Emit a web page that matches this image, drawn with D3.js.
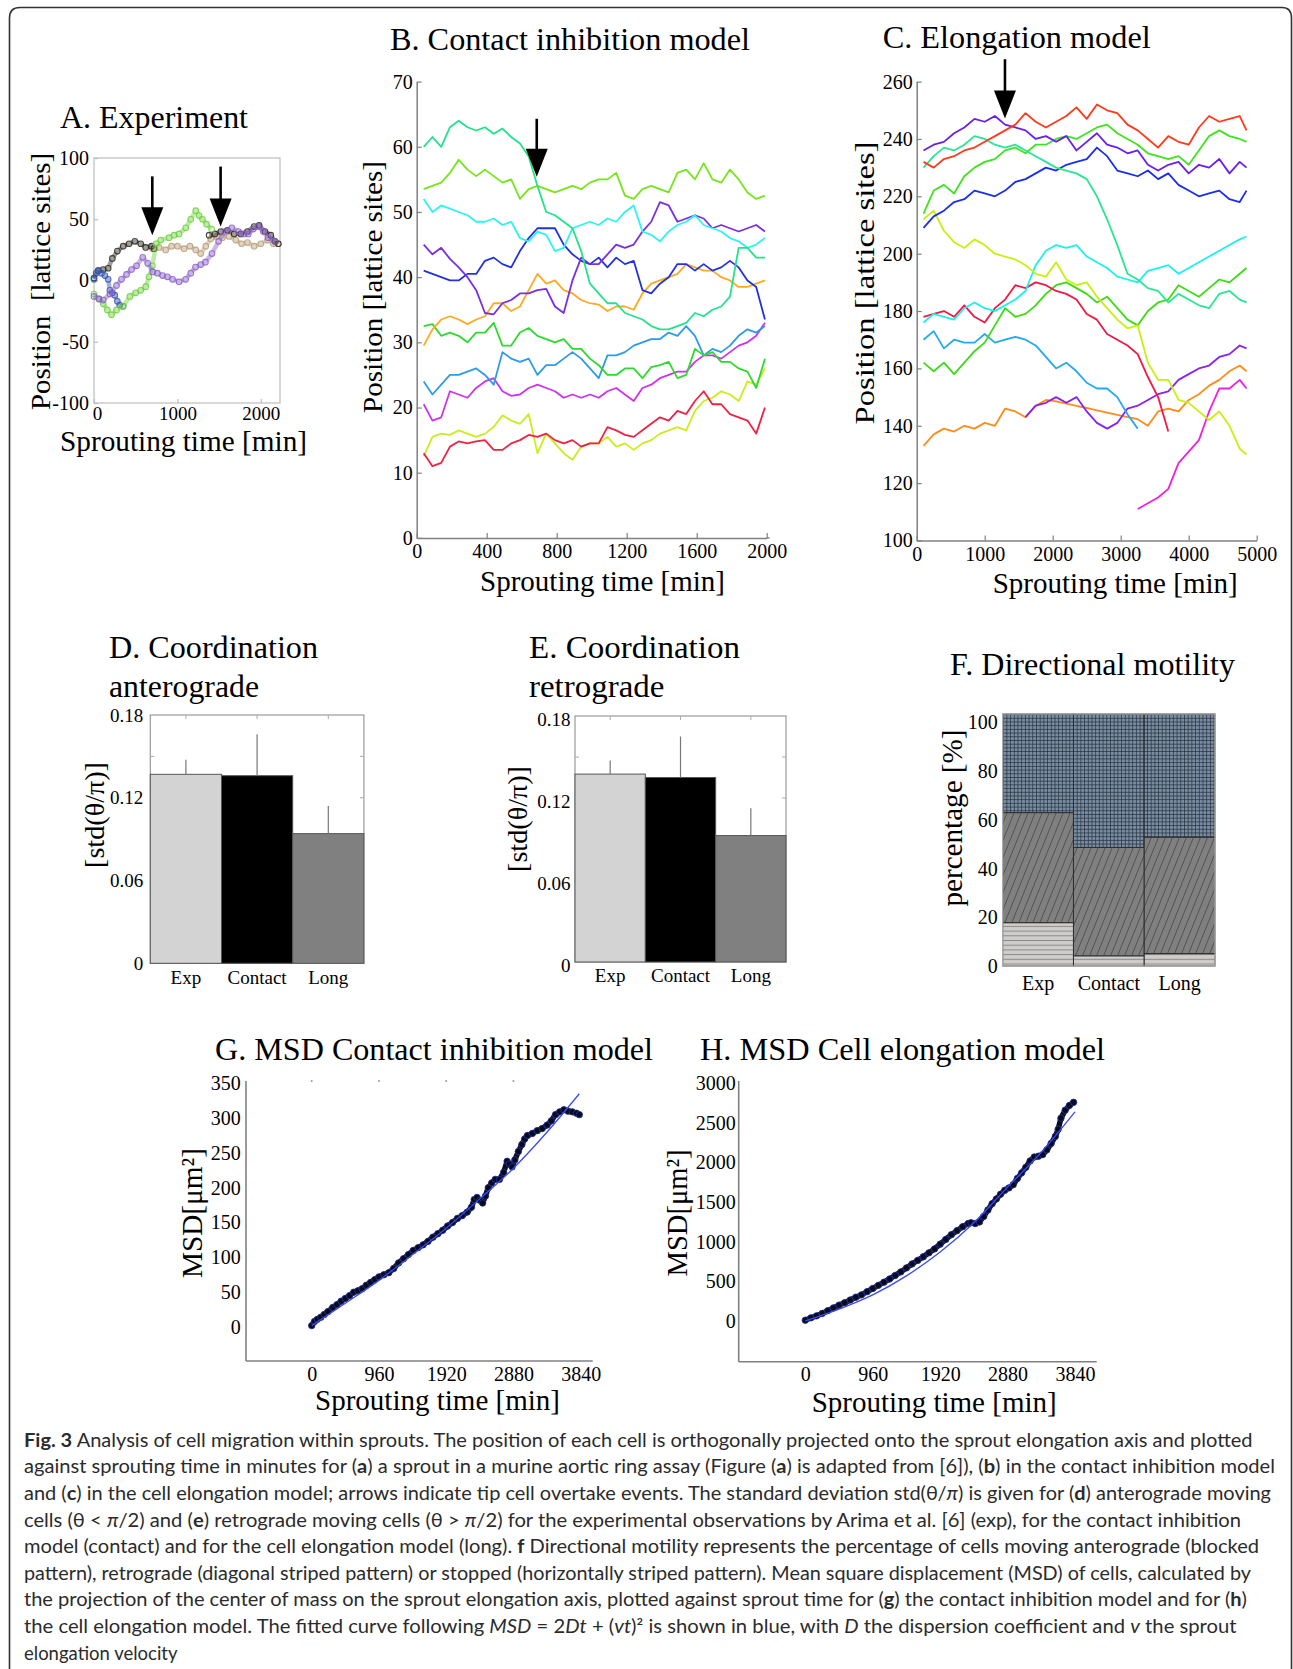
<!DOCTYPE html>
<html><head><meta charset="utf-8">
<script src="https://cdn.jsdelivr.net/npm/d3@7"></script>
<style>body{margin:0;background:#fff}svg{display:block}</style>
</head><body>
<svg id="fig" width="1293" height="1669"></svg>
<script>
// ---------------- DATA ----------------
// Panel A: experiment traces [time(min), position]
const aBlack1 = [[0,2],[50,8],[110,9],[170,10],[220,18],[280,24],[350,28],[420,30],[490,32],[560,30],[620,27],[690,28],[720,26]];
const aBlack2 = [[1380,37],[1450,38],[1520,40],[1600,41],[1680,38],[1760,38],[1840,40],[1920,44],[1980,45],[2050,40],[2120,37],[2170,32],[2210,30]];
const aTan = [[700,26],[780,27],[860,25],[930,28],[1000,28],[1080,26],[1150,28],[1220,25],[1280,22],[1340,28],[1400,34],[1470,36],[1540,35],[1620,36],[1700,33],[1770,30],[1840,31],[1920,28],[2000,30],[2080,33],[2150,30],[2210,30]];
const aGreen = [[0,-11],[60,-15],[110,-19],[160,-24],[210,-28],[270,-24],[350,-21],[430,-13],[500,-10],[560,-8],[620,-5],[660,3],[700,12],[745,30],[800,33],[900,35],[960,37],[1020,38],[1100,43],[1160,50],[1220,57],[1260,53],[1300,50],[1350,46],[1410,42]];
const aPurple = [[0,-13],[60,-15],[110,-16],[190,-11],[270,-4],[330,1],[390,5],[450,9],[510,12],[585,19],[644,14],[704,7],[760,6],[822,4],[880,3],[941,1],[1020,-1],[1099,1],[1160,6],[1217,11],[1280,13],[1336,15],[1415,22],[1494,32],[1573,40],[1652,43],[1731,40],[1800,38],[1850,38],[1910,42],[1968,44],[2030,40],[2087,35],[2166,32]];
const aBlue = [[0,1],[25,6],[51,8],[90,6],[130,4],[170,1],[190,-8],[220,-10],[249,-12],[280,-17],[308,-20],[348,-21]];
const aArrows = [[699,85,37],[1518,93,44]];
const aXTicks = [0,1000,2000];
const aYTicks = [-100,-50,0,50,100];

// Panel B: contact inhibition model
const bTimes = [40,90,140,190,240,290,340,390,440,490,540,590,640,690,740,790,840,890,940,990,1040,1090,1140,1190,1240,1290,1340,1390,1440,1490,1540,1590,1640,1690,1740,1790,1840,1890,1940,1990];
const bTeal = [60,61.5,60,63,64,63,62.5,63,62,62.8,61.5,60.5,58.5,54,50,49.5,48.5,47.5,44,39,37.5,36,36,34.5,34,33.5,32.5,32,32,32.5,33,34.5,34,35,35.5,37,44.5,44.5,43,43];
const bLime = [53.5,54,54.5,56,58,56.5,55.5,56.5,55.5,54.5,55,52,53.5,54,53.5,53,53.5,54,53.5,54.5,55,55,56,52.5,52,53.5,54,53.5,53,56,56.5,55,57.5,55,54.5,56.5,55,53,52,52.5];
const bCyan = [52,50,51,50.5,50,49.5,48.5,48.5,49,48,48.5,46,45.5,47,46.5,44,44.5,47.5,48,48.5,48,49,48.5,50,51,47,46.5,45.5,47,48,48.5,49.5,48,47.5,47,46,45.5,44.5,45,46];
const bPurple = [45,43.5,44.5,42.8,41.5,40,38,34.5,34.3,36,36.5,37.5,37.5,38,38.2,35.5,34.5,39.5,43,42,42,43.5,45,44.5,45,47,48.5,51.5,51,48.5,49,49.5,49,47.5,48,47.5,47,47.5,48,47];
const bBlue = [41,40.5,40,39.5,39.5,40.5,40.5,42.5,43,42,41.5,44,46,47.5,47.5,47.5,45,43.5,42.5,42,43,41.5,43,42,42.5,38,37.5,39,40,42,42,41,42,41,41.5,42.5,41.5,39.5,38.5,33.5];
const bOrange = [29.5,32,33.5,34,33.5,32.8,33.5,34,36,36,34.8,35.5,38,40.5,39,39.5,38,37.5,36.5,36,35.8,34.8,35.5,35.5,35,37.5,39,39.5,40,40.5,42,41.5,41,41,40,39.5,38.5,38.5,39,39.5];
const bGreen = [32.5,32.8,31,31.5,31,30,31.5,31.5,33,29.5,29.5,31.5,32.2,31,30.5,30,30.5,29,29,27.5,26.5,25,25,26,26,24.5,26.2,26.5,27,24.5,25,29,28,28.5,27,27,26,25.5,23,27.5];
const bSky = [24,22,23.5,25,25,25.5,26,25,23.5,28.5,27.5,27,27.5,25,26.5,26.5,27.5,28.5,27.5,26,24.5,28,28,28.5,29.5,30,30.5,30.5,31.5,31,32.5,31,28,29,28.5,29.5,31,32,31.5,32.5];
const bMagenta = [20.5,18,18.5,22.5,22,21.5,23,24,24.5,22.5,21.8,22,23,23.5,23,22.5,21.5,22,21.5,22,21.5,22.5,23,22,21,23,23.5,24.5,25,25.5,25.5,27,28,28,27.5,28.5,29.5,30,31,33];
const bRed = [13,11,11.5,14,14.8,14.5,14.8,15,13.5,13.5,14.5,15,15.8,15.5,16,15,14.5,15,14,14.5,14.5,17,16.5,15.8,15.5,16.5,17.5,18.5,18,19.5,19,21,22.5,20.5,20.5,19,18.5,18,16,20];
const bYellow = [12.5,15.5,16,15.8,16.5,16,15.5,16,17,18.8,18,17.5,19,13,16,14.5,13,12,14,14.5,14.5,15.5,14,14.5,13.5,14.5,15,16,16.5,17,16.5,19.5,21,21.5,22.5,22,21,24,23.5,26];
const bArrow = [686,64.3,55.4];
const bXTicks = [0,400,800,1200,1600,2000];
const bYTicks = [0,10,20,30,40,50,60,70];

// Panel C: elongation model (null = cell not present)
const cTimes = [100,250,400,550,700,850,1000,1150,1300,1450,1600,1750,1900,2050,2200,2350,2500,2650,2800,2950,3100,3250,3400,3550,3700,3850,4000,4150,4300,4450,4600,4750,4850];
const cRedOrange = [232,230,233,234,236,237,239,241,243,245,249,246,244,246,248,251,247,252,250,249,245,243,240,237,241,239,238,244,248,246,247,248,243];
const cViolet = [236,238,239,242,244,247,246,248,245,244,243,240,241,239,241,236,239,242,238,237,235,236,231,229,231,232,228,231,230,233,228,232,230];
const cTeal = [230,234,237,236,238,241,240,238,237,238,236,234,232,230,229,228,226,220,212,203,193,191,188,187,183,186,184,182,181,186,187,184,183];
const cGreen = [214,222,224,221,227,230,232,233,236,237,235,238,238,240,241,240,242,244,245,242,240,238,235,234,233,234,231,236,241,243,241,240,239];
const cBlue = [209,213,215,218,219,222,221,220,222,225,226,228,230,229,231,232,233,237,234,229,228,227,229,226,228,224,222,220,221,222,219,218,222];
const cYellow = [212,215,208,204,202,205,203,200,199,198,196,193,192,197,191,189,190,185,181,177,174,175,162,156,156,149,148,145,142,145,140,132,130];
const cCyan = [176,179,178,177,181,183,181,180,182,184,187,196,201,203,202,203,199,197,195,192,191,190,194,195,196,193,195,197,199,201,203,205,206];
const cRed = [178,179,180,178,182,178,176,181,184,189,188,190,189,187,186,184,179,177,172,170,168,165,157,150,138,null,null,null,null,null,null,null,null];
const cGreen2 = [162,159,162,158,162,166,169,175,181,178,179,182,186,189,190,188,186,183,185,181,177,175,180,183,184,189,187,185,188,191,190,193,195];
const cSky = [170,173,167,170,169,169,172,169,170,171,170,168,164,160,162,159,155,153,153,150,144,139,null,null,null,null,null,null,null,null,null,null,null];
const cPurple = [null,null,null,null,null,null,null,null,null,null,143,147,148,150,148,150,145,141,139,141,146,147,149,151,152,156,158,160,161,164,165,168,167];
const cOrange = [133,137,139,138,140,139,141,140,146,145,143,147,149,148.5,147.7,146.9,146.2,145.4,144.6,143.8,143,142.3,140,145,146,145,149,151,154,156,159,161,159];
const cMagenta = [null,null,null,null,null,null,null,null,null,null,null,null,null,null,null,null,null,null,null,null,null,111,113,115,118,127,131,135,145,153,153,156,153];
const cArrow = [1298,267.8,247.1];
const cXTicks = [0,1000,2000,3000,4000,5000];
const cYTicks = [100,120,140,160,180,200,220,240,260];

// Panels D, E: coordination (mean, upper error)
const dCats = ["Exp","Contact","Long"];
const dMean = [0.137,0.136,0.094];
const dErr = [0.0105,0.030,0.020];
const eMean = [0.1375,0.135,0.0925];
const eErr = [0.010,0.030,0.020];
const deYTicks = [0,0.06,0.12,0.18];

// Panel F: directional motility (%)
const fCats = ["Exp","Contact","Long"];
const fStopped = [17.8,4.2,5.1];
const fRetro = [45.2,44.5,47.8];
const fAntero = [40.5,54.8,50.6];
const fYTicks = [0,20,40,60,80,100];

// Panel G: MSD contact inhibition [time, MSD]
const gData = [[0,2],[40,8],[80,11],[130,14],[180,18],[230,22],[300,28],[360,32],[420,37],[480,41],[540,45],[600,50],[660,52],[720,55],[780,60],[840,64],[900,68],[960,72],[1030,75],[1100,78],[1170,84],[1240,92],[1310,98],[1380,104],[1450,110],[1520,114],[1590,118],[1660,123],[1730,129],[1800,134],[1870,139],[1940,145],[2010,150],[2080,156],[2150,160],[2220,165],[2280,172],[2320,183],[2360,186],[2400,182],[2440,178],[2480,188],[2520,200],[2570,207],[2620,212],[2680,212],[2740,222],[2790,238],[2820,234],[2860,230],[2900,240],[2950,252],[3000,262],[3040,270],[3080,275],[3150,278],[3220,282],[3290,285],[3360,290],[3420,296],[3480,305],[3540,309],[3600,312],[3660,310],[3720,309],[3780,307],[3820,305]];
const gFit = [[0,2],[480,34],[960,67],[1440,104],[1920,142],[2400,184],[2880,228],[3360,280],[3820,335]];
const ghXTicks = [0,960,1920,2880,3840];
const gYTicks = [0,50,100,150,200,250,300,350];

// Panel H: MSD cell elongation [time, MSD]
const hData = [[0,10],[80,40],[160,65],[240,95],[320,130],[400,165],[480,200],[560,230],[640,265],[720,300],[800,330],[880,370],[960,410],[1040,450],[1120,490],[1200,530],[1280,575],[1360,620],[1440,670],[1520,720],[1600,765],[1680,810],[1760,860],[1840,910],[1920,970],[2000,1030],[2080,1090],[2160,1140],[2240,1190],[2320,1230],[2360,1240],[2420,1230],[2480,1250],[2540,1320],[2600,1400],[2660,1480],[2720,1540],[2780,1600],[2840,1650],[2900,1680],[2960,1720],[3020,1800],[3080,1870],[3140,1940],[3200,2020],[3260,2070],[3320,2080],[3380,2100],[3440,2160],[3500,2240],[3560,2330],[3600,2420],[3640,2560],[3700,2660],[3760,2720],[3820,2760]];
const hFit = [[0,0],[480,150],[960,330],[1440,570],[1920,870],[2400,1240],[2880,1690],[3360,2130],[3840,2640]];
const hYTicks = [0,500,1000,1500,2000,2500,3000];

// Caption
const captionLines = [
 [["Fig. 3","b"],[" Analysis of cell migration within sprouts. The position of each cell is orthogonally projected onto the sprout elongation axis and plotted",""]],
 [["against sprouting time in minutes for (",""],["a","b"],[") a sprout in a murine aortic ring assay (Figure (",""],["a","b"],[") is adapted from [6]), (",""],["b","b"],[") in the contact inhibition model",""]],
 [["and (",""],["c","b"],[") in the cell elongation model; arrows indicate tip cell overtake events. The standard deviation std(θ/",""],["π","i"],[") is given for (",""],["d","b"],[") anterograde moving",""]],
 [["cells (θ < ",""],["π","i"],["/2) and (",""],["e","b"],[") retrograde moving cells (θ > ",""],["π","i"],["/2) for the experimental observations by Arima et al. [6] (exp), for the contact inhibition",""]],
 [["model (contact) and for the cell elongation model (long). ",""],["f","b"],[" Directional motility represents the percentage of cells moving anterograde (blocked",""]],
 [["pattern), retrograde (diagonal striped pattern) or stopped (horizontally striped pattern). Mean square displacement (MSD) of cells, calculated by",""]],
 [["the projection of the center of mass on the sprout elongation axis, plotted against sprout time for (",""],["g","b"],[") the contact inhibition model and for (",""],["h","b"],[")",""]],
 [["the cell elongation model. The fitted curve following ",""],["MSD","i"],[" = 2",""],["Dt","i"],[" + (",""],["vt","i"],[")² is shown in blue, with ",""],["D","i"],[" the dispersion coefficient and ",""],["v","i"],[" the sprout",""]],
 [["elongation velocity",""]]
];
const captionWidths = [1228.6,1251,1247,1217,1235,1227,1223,1212.6,null];

// ---------------- DRAWING ----------------
const SERIF = "'Liberation Serif','Times New Roman',serif";
const plain = d => String(d);
const svg = d3.select("#fig");
svg.append("rect").attr("width",1293).attr("height",1669).attr("fill","#fff");

// outer frame
svg.append("path").attr("d","M9.5,1669 V18 Q9.5,7.5 20,7.5 H1282 Q1291.5,7.5 1291.5,18 V1669")
  .attr("fill","none").attr("stroke","#333").attr("stroke-width",1.6);

function addText(x, y, s, o = {}) {
  const t = svg.append("text")
    .attr("font-family", o.family || SERIF)
    .attr("font-size", o.size || 20)
    .attr("fill", o.fill || "#000")
    .attr("text-anchor", o.anchor || "start")
    .style("white-space","pre")
    .text(s);
  if (o.rot) t.attr("transform", `translate(${x},${y}) rotate(-90)`).attr("dominant-baseline","central");
  else t.attr("x", x).attr("y", y);
  if (o.len) t.attr("textLength", o.len).attr("lengthAdjust", "spacingAndGlyphs");
  return t;
}
function styleAxis(g, o = {}) {
  g.attr("font-family", SERIF).attr("font-size", o.size || 20);
  g.selectAll("text").attr("fill", "#000");
  g.selectAll(".tick line").attr("stroke", o.tick || "#808080").attr("stroke-width", o.tw || 1.2);
  if (o.noDomain) g.select(".domain").remove();
  else g.select(".domain").attr("stroke", o.color || "#808080").attr("stroke-width", o.width || 1.5);
}
function arrow(x, y1, y2) {
  const hl = 28, hw = 11;
  svg.append("line").attr("x1",x).attr("x2",x).attr("y1",y1).attr("y2",y2-hl+2)
    .attr("stroke","#000").attr("stroke-width",2.6);
  svg.append("path").attr("d",`M${x-hw},${y2-hl} L${x+hw},${y2-hl} L${x},${y2} Z`).attr("fill","#000");
}

// defs / patterns for panel F
const defs = svg.append("defs");
const pA = defs.append("pattern").attr("id","pAntero").attr("patternUnits","userSpaceOnUse").attr("width",3.7).attr("height",3.7);
pA.append("rect").attr("width",3.7).attr("height",3.7).attr("fill","#7a8da3");
pA.append("path").attr("d","M0,0.35H3.7M0.35,0V3.7").attr("stroke","#1f2935").attr("stroke-width",0.75);
const pR = defs.append("pattern").attr("id","pRetro").attr("patternUnits","userSpaceOnUse").attr("width",6.5).attr("height",6.5).attr("patternTransform","rotate(22)");
pR.append("rect").attr("width",6.5).attr("height",6.5).attr("fill","#808080");
pR.append("path").attr("d","M3.25,0V6.5").attr("stroke","#4a4a4a").attr("stroke-width",0.8);
const pS = defs.append("pattern").attr("id","pStop").attr("patternUnits","userSpaceOnUse").attr("width",8).attr("height",4.7);
pS.append("rect").attr("width",8).attr("height",4.7).attr("fill","#cfcdcb");
pS.append("path").attr("d","M0,0.5H8").attr("stroke","#8a8a8a").attr("stroke-width",1);

// ===== Panel A =====
{
  const x = d3.scaleLinear([0,2230],[94,280]);
  const y = d3.scaleLinear([-100,100],[403,158]);
  svg.append("rect").attr("x",94).attr("y",158).attr("width",186).attr("height",245)
    .attr("fill","none").attr("stroke","#bdbdbd").attr("stroke-width",1.2);
  const gy = svg.append("g").attr("transform","translate(94,0)")
    .call(d3.axisLeft(y).tickValues(aYTicks).tickFormat(plain).tickSizeInner(-4).tickSizeOuter(0).tickPadding(5));
  styleAxis(gy,{size:20,noDomain:true,tick:"#bdbdbd"});
  const gx = svg.append("g").attr("transform","translate(0,403)")
    .call(d3.axisBottom(x).tickValues(aXTicks).tickFormat(plain).tickSizeInner(-4).tickSizeOuter(0).tickPadding(4));
  styleAxis(gx,{size:19,noDomain:true,tick:"#bdbdbd"});
  gx.selectAll(".tick text").filter(d=>d===0).attr("dx","3");
  const line = d3.line().x(d=>x(d[0])).y(d=>y(d[1]));
  const series = [[aTan,"#b99f79"],[aBlack1,"#2a2620"],[aBlack2,"#2a2620"],[aBlue,"#3555b0"],[aGreen,"#6cd03c"],[aPurple,"#8a5ec8"]];
  series.forEach(([d,c])=>{
    svg.append("path").datum(d).attr("d",line).attr("fill","none").attr("stroke",c)
      .attr("stroke-width",4.5).attr("stroke-opacity",0.45).attr("stroke-linejoin","round");
    svg.append("g").selectAll("circle").data(d).join("circle")
      .attr("cx",p=>x(p[0])).attr("cy",p=>y(p[1])).attr("r",2.8)
      .attr("fill","none").attr("stroke",c).attr("stroke-width",1.1).attr("stroke-opacity",0.85);
  });
  aArrows.forEach(a=>arrow(x(a[0]), y(a[1]), y(a[2])));
  addText(60,128,"A. Experiment",{size:31,len:188});
  addText(40,281.5,"Position  [lattice sites]",{size:28,rot:true,anchor:"middle",len:257});
  addText(60,451,"Sprouting time [min]",{size:29,len:247});
}

// ===== Panel B =====
{
  const x = d3.scaleLinear([0,2000],[416.7,766.7]);
  const y = d3.scaleLinear([0,70],[537.9,81.6]);
  const gy = svg.append("g").attr("transform","translate(416.7,0)")
    .call(d3.axisLeft(y).tickValues(bYTicks).tickFormat(plain).tickSizeInner(-5).tickSizeOuter(0).tickPadding(4));
  styleAxis(gy,{size:20});
  const gx = svg.append("g").attr("transform","translate(0,537.9)")
    .call(d3.axisBottom(x).tickValues(bXTicks).tickFormat(plain).tickSizeInner(-5).tickSizeOuter(0).tickPadding(6));
  styleAxis(gx,{size:20});
  svg.append("line").attr("x1",766.7).attr("x2",769.5).attr("y1",537.9).attr("y2",537.9).attr("stroke","#808080").attr("stroke-width",1.5);
  const line = d3.line().x((d,i)=>x(bTimes[i])).y(d=>y(d));
  const series = [[bYellow,"#c8ef1c"],[bRed,"#ee2244"],[bMagenta,"#cc33ee"],[bSky,"#2e9be8"],[bGreen,"#2fd92f"],[bOrange,"#ffaa22"],[bBlue,"#2233dd"],[bPurple,"#7a2ee6"],[bCyan,"#2ff2f2"],[bLime,"#77e619"],[bTeal,"#22e38b"]];
  series.forEach(([d,c])=>{
    svg.append("path").datum(d).attr("d",line).attr("fill","none").attr("stroke",c)
      .attr("stroke-width",1.8).attr("stroke-linejoin","round");
  });
  arrow(x(bArrow[0]), y(bArrow[1]), y(bArrow[2]));
  addText(390,49.9,"B. Contact inhibition model",{size:31,len:360});
  addText(372.5,287,"Position [lattice sites]",{size:28,rot:true,anchor:"middle",len:252});
  addText(480,591,"Sprouting time [min]",{size:29,len:245});
}

// ===== Panel C =====
{
  const x = d3.scaleLinear([0,5000],[916.7,1256.7]);
  const y = d3.scaleLinear([100,260],[540.5,81.6]);
  const gy = svg.append("g").attr("transform","translate(916.7,0)")
    .call(d3.axisLeft(y).tickValues(cYTicks).tickFormat(plain).tickSizeInner(-5).tickSizeOuter(0).tickPadding(4));
  styleAxis(gy,{size:20});
  const gx = svg.append("g").attr("transform","translate(0,540.5)")
    .call(d3.axisBottom(x).tickValues(cXTicks).tickFormat(plain).tickSizeInner(-5).tickSizeOuter(0).tickPadding(6));
  styleAxis(gx,{size:20});
  const line = d3.line().defined(d=>d!==null).x((d,i)=>x(cTimes[i])).y(d=>y(d));
  const series = [[cOrange,"#ff8c1a"],[cMagenta,"#ee22dd"],[cPurple,"#8a22ee"],[cSky,"#22aaee"],[cGreen2,"#3cdc14"],[cRed,"#ee1a44"],[cCyan,"#1af0f0"],[cYellow,"#c8f00f"],[cBlue,"#1a2ef0"],[cGreen,"#3fe31f"],[cTeal,"#27e695"],[cViolet,"#6a1fe8"],[cRedOrange,"#ff3a1a"]];
  series.forEach(([d,c])=>{
    svg.append("path").datum(d).attr("d",line).attr("fill","none").attr("stroke",c)
      .attr("stroke-width",1.8).attr("stroke-linejoin","round");
  });
  arrow(x(cArrow[0]), y(cArrow[1]), y(cArrow[2]));
  addText(882.7,48,"C. Elongation model",{size:31,len:268});
  addText(864,283,"Position [lattice sites]",{size:28,rot:true,anchor:"middle",len:283});
  addText(992.7,593,"Sprouting time [min]",{size:29,len:245});
}

// ===== Panels D & E =====
function coordPanel(o) {
  const x = d3.scaleBand(dCats,[o.x0,o.x1]).padding(0);
  const y = d3.scaleLinear([0,0.18],[o.y1,o.y0]);
  svg.append("rect").attr("x",o.x0).attr("y",o.y0).attr("width",o.x1-o.x0).attr("height",o.y1-o.y0)
    .attr("fill","none").attr("stroke","#9a9a9a").attr("stroke-width",1.2);
  const minor = [0.03,0.06,0.09,0.12,0.15];
  minor.forEach(v=>{
    svg.append("line").attr("x1",o.x0).attr("x2",o.x0+4).attr("y1",y(v)).attr("y2",y(v)).attr("stroke","#aaa");
    svg.append("line").attr("x1",o.x1-4).attr("x2",o.x1).attr("y1",y(v)).attr("y2",y(v)).attr("stroke","#aaa");
  });
  dCats.forEach(c=>{
    const cx = x(c)+x.bandwidth()/2;
    svg.append("line").attr("x1",cx).attr("x2",cx).attr("y1",o.y0).attr("y2",o.y0+4).attr("stroke","#aaa");
  });
  const colors = ["#d3d3d3","#000000","#808080"];
  svg.append("g").selectAll("rect").data(o.mean).join("rect")
    .attr("x",(d,i)=>x(dCats[i])).attr("width",x.bandwidth())
    .attr("y",d=>y(d)).attr("height",d=>y(0)-y(d))
    .attr("fill",(d,i)=>colors[i]).attr("stroke","#555").attr("stroke-width",1);
  svg.append("g").selectAll("line").data(o.mean).join("line")
    .attr("x1",(d,i)=>x(dCats[i])+x.bandwidth()/2).attr("x2",(d,i)=>x(dCats[i])+x.bandwidth()/2)
    .attr("y1",d=>y(d)).attr("y2",(d,i)=>y(d+o.err[i])).attr("stroke","#777").attr("stroke-width",1.2);
  const gy = svg.append("g").attr("transform",`translate(${o.x0},0)`)
    .call(d3.axisLeft(y).tickValues(deYTicks).tickFormat(d=>d===0?"0":d3.format(".2f")(d)).tickSize(0).tickPadding(o.pad));
  styleAxis(gy,{size:19,noDomain:true});
  gy.selectAll("text").attr("dy",o.dy);
  const gx = svg.append("g").attr("transform",`translate(0,${o.y1})`)
    .call(d3.axisBottom(x).tickSize(0).tickPadding(7));
  styleAxis(gx,{size:19,noDomain:true});
  addText(o.tx,658,o.t1,{size:31,len:o.l1});
  addText(o.tx,697,o.t2,{size:31,len:o.l2});
  addText(o.lx,o.ly,"[std(θ/π)]",{size:27,rot:true,anchor:"middle",len:106});
}
coordPanel({x0:150.3,x1:363.9,y0:715,y1:963.3,mean:dMean,err:dErr,pad:7,dy:"0.32em",tx:109,t1:"D. Coordination",t2:"anterograde",l1:209,l2:150,lx:95,ly:815});
coordPanel({x0:575,x1:786,y0:716,y1:962,mean:eMean,err:eErr,pad:4.5,dy:"0.5em",tx:529,t1:"E. Coordination",t2:"retrograde",l1:211,l2:135.5,lx:517.6,ly:819});

// ===== Panel F =====
{
  const x = d3.scaleBand(fCats,[1002.7,1215]).padding(0);
  const y = d3.scaleLinear([0,103.5],[966,714]);
  const stack = fCats.map((c,i)=>[[0,fStopped[i],"url(#pStop)"],[fStopped[i],fStopped[i]+fRetro[i],"url(#pRetro)"],[fStopped[i]+fRetro[i],fStopped[i]+fRetro[i]+fAntero[i],"url(#pAntero)"]]);
  fCats.forEach((c,i)=>{
    svg.append("g").selectAll("rect").data(stack[i]).join("rect")
      .attr("x",x(c)).attr("width",x.bandwidth())
      .attr("y",d=>y(d[1])).attr("height",d=>y(d[0])-y(d[1]))
      .attr("fill",d=>d[2]).attr("stroke","#2e2e2e").attr("stroke-width",1);
  });
  svg.append("rect").attr("x",1002.7).attr("y",714).attr("width",1215-1002.7).attr("height",252)
    .attr("fill","none").attr("stroke","#b5b5b5").attr("stroke-width",1.2);
  const gy = svg.append("g").attr("transform","translate(1002.7,0)")
    .call(d3.axisLeft(y).tickValues(fYTicks).tickSize(0).tickPadding(5));
  styleAxis(gy,{size:20,noDomain:true});
  const gx = svg.append("g").attr("transform","translate(0,966)")
    .call(d3.axisBottom(x).tickSize(0).tickPadding(10));
  styleAxis(gx,{size:20,noDomain:true});
  addText(950,675,"F. Directional motility",{size:31,len:285});
  addText(951.7,818,"percentage [%]",{size:29,rot:true,anchor:"middle",len:177});
}

// ===== Panels G & H =====
function msdPanel(o) {
  const x = d3.scaleLinear([0,3840],o.xr);
  const y = d3.scaleLinear([0,o.ymax],o.yr);
  svg.append("line").attr("x1",o.ax).attr("x2",o.ax).attr("y1",o.ay).attr("y2",o.ytop).attr("stroke","#808080").attr("stroke-width",1.6);
  svg.append("line").attr("x1",o.ax).attr("x2",o.xend).attr("y1",o.ay).attr("y2",o.ay).attr("stroke","#808080").attr("stroke-width",1.6);
  const gy = svg.append("g").attr("transform",`translate(${o.ax},0)`)
    .call(d3.axisLeft(y).tickValues(o.yticks).tickFormat(plain).tickSize(0).tickPadding(o.ypad));
  styleAxis(gy,{size:20,noDomain:true});
  const gx = svg.append("g").attr("transform",`translate(0,${o.ay})`)
    .call(d3.axisBottom(x).tickValues(ghXTicks).tickFormat(plain).tickSize(0).tickPadding(o.xpad));
  styleAxis(gx,{size:20,noDomain:true});
  if (o.topDots) ghXTicks.slice(0,4).forEach(t=>svg.append("circle").attr("cx",x(t)).attr("cy",o.ytop).attr("r",1).attr("fill","#999"));
  const line = d3.line().x(d=>x(d[0])).y(d=>y(d[1]));
  svg.append("path").datum(o.data).attr("d",line).attr("fill","none").attr("stroke","#0c0c1e").attr("stroke-width",5.5).attr("stroke-linejoin","round");
  svg.append("g").selectAll("circle").data(o.data).join("circle")
    .attr("cx",d=>x(d[0])).attr("cy",d=>y(d[1])).attr("r",3.2)
    .attr("fill","#0a0a14").attr("stroke","#1c2fa0").attr("stroke-width",0.9);
  svg.append("path").datum(o.fit).attr("d",d3.line().curve(d3.curveMonotoneX).x(d=>x(d[0])).y(d=>y(d[1])))
    .attr("fill","none").attr("stroke","#3a4cf0").attr("stroke-width",1.3);
  addText(o.tx,1060,o.title,{size:31,len:o.tl});
  addText(o.lx,1213,"MSD[μm²]",{size:30,rot:true,anchor:"middle",len:o.ll});
  addText(o.sx,o.sy,"Sprouting time [min]",{size:29,len:245});
}
msdPanel({xr:[311.7,580.7],ymax:350,yr:[1327,1083.3],ax:246,ay:1361,ytop:1081,xend:592.7,yticks:gYTicks,ypad:5.3,xpad:5.5,topDots:true,data:gData,fit:gFit,tx:215,title:"G. MSD Contact inhibition model",tl:438,lx:191.7,ll:130,sx:315,sy:1410});
msdPanel({xr:[805.3,1075],ymax:3000,yr:[1321,1083.3],ax:738.7,ay:1361.7,ytop:1081,xend:1096.7,yticks:hYTicks,ypad:3,xpad:5.5,topDots:false,data:hData,fit:hFit,tx:700,title:"H. MSD Cell elongation model",tl:405,lx:676.7,ll:127,sx:811.7,sy:1412});

// ===== Caption =====
captionLines.forEach((segs,i)=>{
  const t = svg.append("text").attr("x",24).attr("y",1446.7+i*26.6)
    .attr("font-family","Lato,'Open Sans',sans-serif").attr("font-size",18.5).attr("fill","#2b2b2b")
    .style("white-space","pre");
  if (captionWidths[i]) t.attr("textLength",captionWidths[i]).attr("lengthAdjust","spacingAndGlyphs");
  segs.forEach(([s,st])=>{
    const ts = t.append("tspan").text(s);
    if (st==="b") ts.attr("font-weight","bold");
    if (st==="i") ts.attr("font-style","italic");
  });
});
</script>
</body></html>
